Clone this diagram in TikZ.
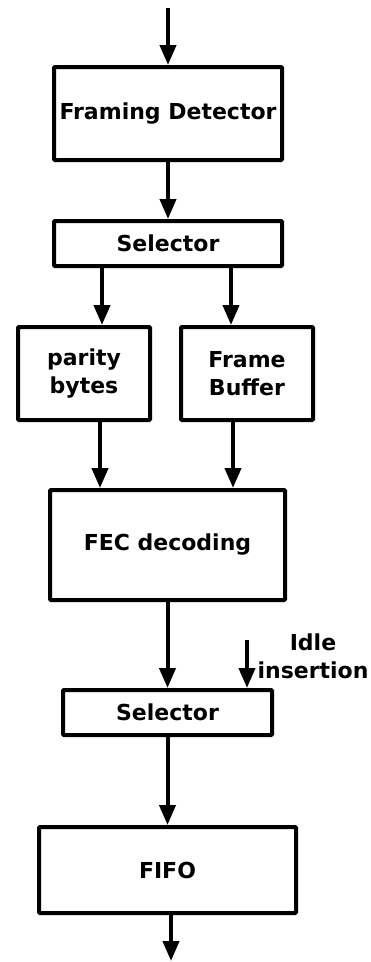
\documentclass[tikz,border=0pt]{standalone}
\usepackage{fontspec}
\setmainfont{DejaVu Sans}
\usepackage{tikz}
\usetikzlibrary{arrows.meta}

\tikzset{
  blk/.style={draw, line width=4pt, rounded corners=1pt, align=center,
    font=\bfseries\fontsize{22}{28}\selectfont},
  arr/.style={line width=4pt, -{Triangle[length=20pt,width=16pt]}}
}

\begin{document}
\begin{tikzpicture}[x=1pt, y=-1pt]
        \useasboundingbox (0,0) rectangle (371,962);

        \node[blk, minimum width=228pt, minimum height=93pt] (fd) at (168,113.5) {Framing Detector};
        \node[blk, minimum width=228pt, minimum height=45pt] (sel1) at (168,243.5) {Selector};
        \node[blk, minimum width=132pt, minimum height=93pt] (pb) at (84,373.5) {parity\\bytes};
        \node[blk, minimum width=132pt, minimum height=93pt] (fb) at (247,373.5) {Frame\\Buffer};
        \node[blk, minimum width=235pt, minimum height=110pt] (fec) at (167.5,545) {FEC decoding};
        \node[blk, minimum width=209pt, minimum height=45pt] (sel2) at (167.5,712.5) {Selector};
        \node[blk, minimum width=257pt, minimum height=86pt] (fifo) at (167.5,870) {FIFO};
        \node[align=center, inner sep=0pt, font=\bfseries\fontsize{22}{28}\selectfont] (idle) at (313,656) {Idle\\insertion};

        \coordinate (in) at (168,8);
        \coordinate (idlein) at (247,640);
        \coordinate (out) at (171,961);

        \draw[arr] (in) -- (fd.north);
        \draw[arr] (fd) -- (sel1);
        \draw[arr] ([xshift=18pt]pb.north |- sel1.south) -- ([xshift=18pt]pb.north);
        \draw[arr] ([xshift=-16pt]fb.north |- sel1.south) -- ([xshift=-16pt]fb.north);
        \draw[arr] ([xshift=16pt]pb.south) -- ([xshift=16pt]pb.south |- fec.north);
        \draw[arr] ([xshift=-14pt]fb.south) -- ([xshift=-14pt]fb.south |- fec.north);
        \draw[arr] (fec) -- (sel2);
        \draw[arr] (idlein) -- (idlein |- sel2.north);
        \draw[arr] (sel2) -- (fifo);
        \draw[arr] (fifo.south -| out) -- (out);
    \end{tikzpicture}
\end{document}
